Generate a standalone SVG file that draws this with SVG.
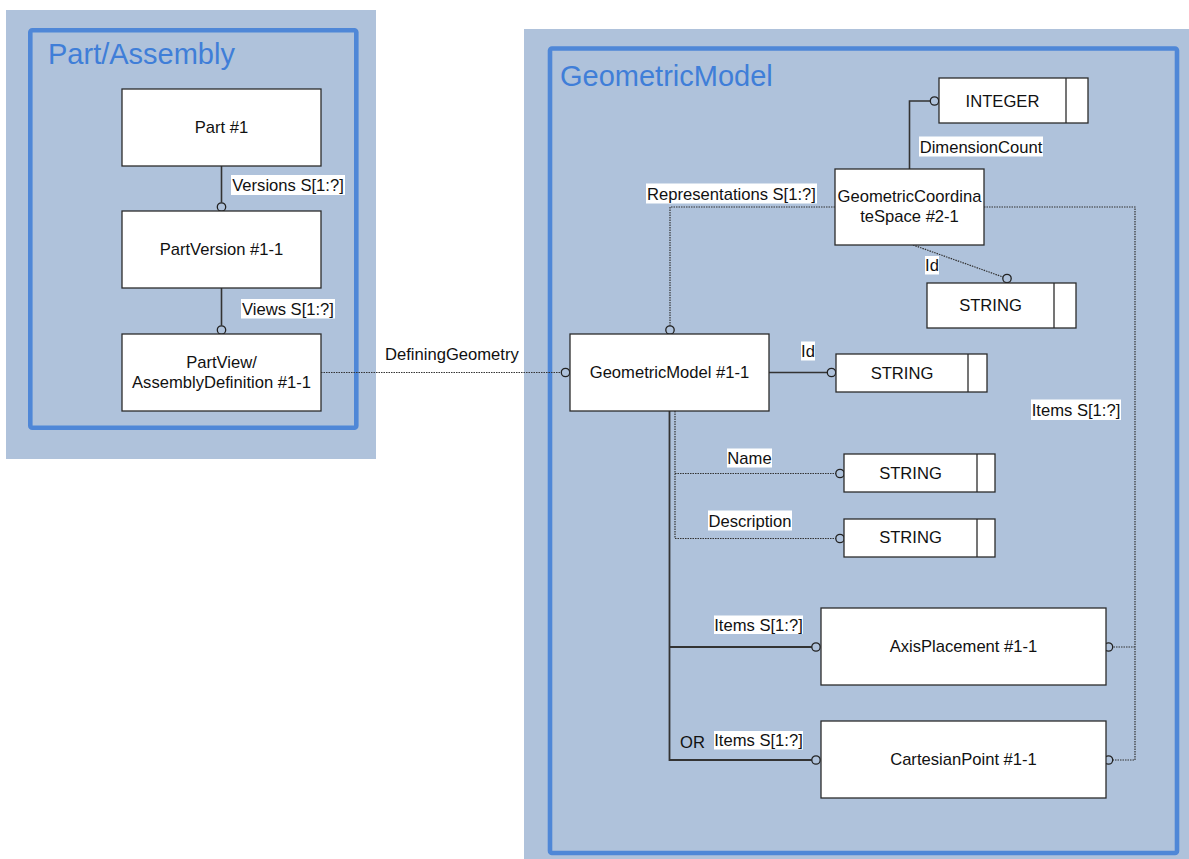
<svg xmlns="http://www.w3.org/2000/svg" width="1189" height="859" viewBox="0 0 1189 859">
<style>
.bg{fill:#afc2db}
.frame{fill:none;stroke:#4f87d7;stroke-width:4.6}
.title{font-family:"Liberation Sans",Arial,sans-serif;font-size:29px;fill:#3f7ed8}
.box{fill:#fff;stroke:#2b2b2b;stroke-width:1.3}
.t{font-family:"Liberation Sans",Arial,sans-serif;font-size:16.6px;fill:#111;text-anchor:middle}
.tl{font-family:"Liberation Sans",Arial,sans-serif;font-size:16.6px;fill:#111}
.lb{fill:#fff}
.solid{fill:none;stroke:#333;stroke-width:1.6}
.dot{fill:none;stroke:#333;stroke-width:1.2;stroke-dasharray:1.5 1}
.c{fill:none;stroke:#222;stroke-width:1.3}
</style>
<rect class="bg" x="6" y="10" width="370" height="449"/>
<rect class="frame" x="30.3" y="30.3" width="326" height="397.4" rx="2"/>
<text class="title" x="48" y="64">Part/Assembly</text>
<rect class="bg" x="524" y="29" width="665" height="830"/>
<rect class="frame" x="550" y="48.5" width="627" height="804.5" rx="2"/>
<text class="title" x="560" y="86">GeometricModel</text>

<g id="connectors">
<line class="solid" x1="221.5" y1="166" x2="221.5" y2="202.5"/>
<circle class="c" cx="221.5" cy="207" r="4.2"/>
<line class="solid" x1="221.5" y1="288" x2="221.5" y2="325.5"/>
<circle class="c" cx="221.5" cy="330" r="4.2"/>
<line class="dot" x1="321" y1="372.5" x2="561.3" y2="372.5"/>
<circle class="c" cx="565.5" cy="372.5" r="4.2"/>
<path class="dot" d="M835,207 H670 V325.8"/>
<circle class="c" cx="670" cy="330" r="4.2"/>
<path class="solid" d="M909.5,169 V101 H930.3"/>
<circle class="c" cx="934.5" cy="101" r="4.2"/>
<line class="dot" x1="913" y1="245" x2="1003" y2="277"/>
<circle class="c" cx="1007" cy="278.5" r="4.2"/>
<line class="solid" x1="769" y1="372.5" x2="827.3" y2="372.5"/>
<circle class="c" cx="831.5" cy="372.5" r="4.2"/>
<path class="dot" d="M675,411 V538.5 H835.8 M675,473.5 H835.8"/>
<circle class="c" cx="840" cy="473.5" r="4.2"/>
<circle class="c" cx="840" cy="538.5" r="4.2"/>
<path class="solid" d="M669.5,411 V760 H811.8 M669.5,647 H811.8" style="stroke-width:1.8"/>
<circle class="c" cx="816" cy="647" r="4.2"/>
<circle class="c" cx="816" cy="760" r="4.2"/>
<path class="dot" d="M984,207 H1135 V760 H1112.7 M1135,647 H1112.7"/>
<circle class="c" cx="1108.5" cy="647" r="4.2"/>
<circle class="c" cx="1108.5" cy="760" r="4.2"/>

<rect class="lb" x="231" y="175" width="114" height="20"/>
<text class="t" x="288" y="191">Versions S[1:?]</text>
<rect class="lb" x="241" y="299" width="94" height="19.5"/>
<text class="t" x="288" y="315">Views S[1:?]</text>
<text class="tl" x="385" y="360">DefiningGeometry</text>
<rect class="lb" x="646" y="183.5" width="171" height="20"/>
<text class="t" x="731.5" y="199.5">Representations S[1:?]</text>
<rect class="lb" x="919" y="136.5" width="124" height="20"/>
<text class="t" x="981" y="152.5">DimensionCount</text>
<rect class="lb" x="925" y="256" width="14" height="18.5"/>
<text class="t" x="932" y="271">Id</text>
<rect class="lb" x="801" y="341.5" width="14" height="19"/>
<text class="t" x="808" y="357">Id</text>
<rect class="lb" x="727" y="448.5" width="45" height="19"/>
<text class="t" x="749.5" y="464">Name</text>
<rect class="lb" x="708" y="510.5" width="84" height="20"/>
<text class="t" x="750" y="526.5">Description</text>
<rect class="lb" x="1031" y="399.5" width="90" height="20.5"/>
<text class="t" x="1076" y="416">Items S[1:?]</text>
<rect class="lb" x="714" y="615.5" width="89" height="18.5"/>
<text class="t" x="758.5" y="631">Items S[1:?]</text>
<rect class="lb" x="714" y="731" width="89" height="18.5"/>
<text class="t" x="758.5" y="746">Items S[1:?]</text>
<text class="tl" x="680" y="748">OR</text>
</g>

<g id="part">
<rect class="box" x="122" y="89" width="199" height="77"/>
<text class="t" x="221.5" y="133">Part #1</text>
</g>
<g id="partversion">
<rect class="box" x="122" y="211" width="199" height="77"/>
<text class="t" x="221.5" y="255">PartVersion #1-1</text>
</g>
<g id="partview">
<rect class="box" x="122" y="334" width="199" height="77"/>
<text class="t" x="221.5" y="368">PartView/</text>
<text class="t" x="221.5" y="388">AssemblyDefinition #1-1</text>
</g>
<g id="geometricmodel">
<rect class="box" x="570" y="334" width="199" height="77"/>
<text class="t" x="669.5" y="377.5">GeometricModel #1-1</text>
</g>
<g id="gcs">
<rect class="box" x="835" y="169" width="149" height="76"/>
<text class="t" x="909.5" y="202">GeometricCoordina</text>
<text class="t" x="909.5" y="222">teSpace #2-1</text>
</g>
<g id="integer">
<rect class="box" x="939" y="78" width="149" height="45"/>
<line class="box" x1="1066" y1="78" x2="1066" y2="123"/>
<text class="t" x="1002.5" y="106.5">INTEGER</text>
</g>
<g id="string-gcs-id">
<rect class="box" x="927" y="283" width="149" height="45"/>
<line class="box" x1="1054" y1="283" x2="1054" y2="328"/>
<text class="t" x="990.5" y="311">STRING</text>
</g>
<g id="string-gm-id">
<rect class="box" x="836" y="354" width="151" height="38"/>
<line class="box" x1="968" y1="354" x2="968" y2="392"/>
<text class="t" x="902" y="378.5">STRING</text>
</g>
<g id="string-name">
<rect class="box" x="844" y="454" width="151" height="38"/>
<line class="box" x1="977" y1="454" x2="977" y2="492"/>
<text class="t" x="910.5" y="478.5">STRING</text>
</g>
<g id="string-description">
<rect class="box" x="844" y="519" width="151" height="38"/>
<line class="box" x1="977" y1="519" x2="977" y2="557"/>
<text class="t" x="910.5" y="543">STRING</text>
</g>
<g id="axisplacement">
<rect class="box" x="821" y="608" width="285" height="77"/>
<text class="t" x="963.5" y="652">AxisPlacement #1-1</text>
</g>
<g id="cartesianpoint">
<rect class="box" x="821" y="721" width="285" height="77"/>
<text class="t" x="963.5" y="765">CartesianPoint #1-1</text>
</g>
</svg>
